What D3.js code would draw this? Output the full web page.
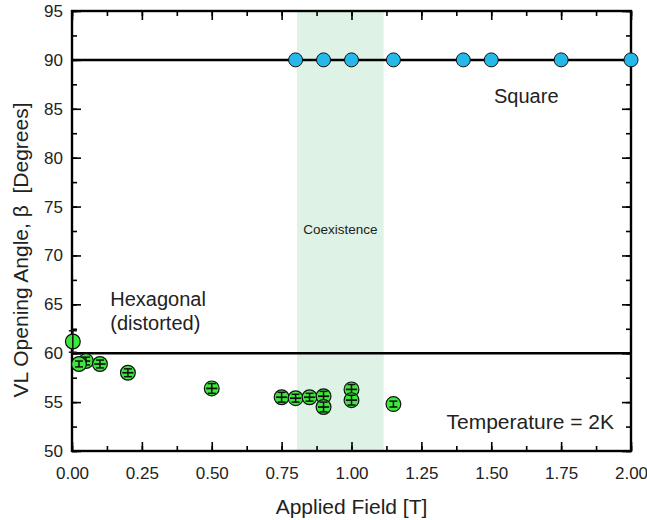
<!DOCTYPE html>
<html>
<head>
<meta charset="utf-8">
<script src="https://cdn.jsdelivr.net/npm/d3@7"></script>
<style>
  html, body { margin: 0; padding: 0; background: #fff; }
  svg { display: block; font-family: "Liberation Sans", Arial, Helvetica, sans-serif; }
</style>
</head>
<body>
<div id="chart"></div>
<script>
/* VL opening angle vs applied field (Temperature = 2K) */

// ── Data ────────────────────────────────────────────────────────────────
const hexField      = [0.003, 0.05, 0.025, 0.1, 0.2, 0.5, 0.75, 0.8, 0.85, 0.9, 0.9, 1.0, 1.0, 1.15];
const hexAngle      = [61.2, 59.2, 58.9, 58.9, 58.0, 56.4, 55.5, 55.4, 55.5, 55.6, 54.5, 56.3, 55.2, 54.8];
const hexAngleErr   = [1.1, 0.4, 0.3, 0.4, 0.4, 0.5, 0.5, 0.4, 0.4, 0.5, 0.5, 0.5, 0.5, 0.3];
const hexFieldErr   = [0, 0.015, 0, 0.02, 0.02, 0.02, 0.02, 0.02, 0.02, 0.02, 0.02, 0.02, 0.02, 0];

const squareField   = [0.8, 0.9, 1.0, 1.15, 1.4, 1.5, 1.75, 2.0];
const squareAngle   = [90, 90, 90, 90, 90, 90, 90, 90];

const refAngles     = [90, 60];
const coexistence   = [0.805, 1.115];

const xTicks = [0, 0.25, 0.5, 0.75, 1.0, 1.25, 1.5, 1.75, 2.0];
const yTicks = [50, 55, 60, 65, 70, 75, 80, 85, 90, 95];

// ── Layout ──────────────────────────────────────────────────────────────
const TW = 647, TH = 520;
const M = { top: 11, right: 16, bottom: 69, left: 72 };
const W = TW - M.left - M.right;
const H = TH - M.top - M.bottom;

const x = d3.scaleLinear().domain([0, 2]).range([0, W]);
const y = d3.scaleLinear().domain([50, 95]).range([H, 0]);

const svg = d3.select('#chart').append('svg')
  .attr('width', TW).attr('height', TH);

const g = svg.append('g').attr('transform', `translate(${M.left},${M.top})`);

// coexistence band
g.append('rect')
  .attr('x', x(coexistence[0])).attr('y', 0)
  .attr('width', x(coexistence[1]) - x(coexistence[0]))
  .attr('height', H)
  .attr('fill', '#def3e5');

g.append('text')
  .attr('x', x((coexistence[0] + coexistence[1]) / 2))
  .attr('y', y(72.2))
  .attr('text-anchor', 'middle')
  .attr('font-size', 13.5)
  .attr('fill', '#222')
  .text('Coexistence');

// reference lines
g.selectAll('line.ref').data(refAngles).join('line')
  .attr('class', 'ref')
  .attr('x1', 0).attr('x2', W)
  .attr('y1', d => y(d)).attr('y2', d => y(d))
  .attr('stroke', '#000').attr('stroke-width', 2.5);

// ── Axes (ticks inward on all four sides) ───────────────────────────────
const xMinor = d3.range(0, 2.0001, 0.125);
const yMinor = d3.range(50, 95.0001, 2.5);

function tickStyle(sel) {
  sel.select('.domain').remove();
  sel.selectAll('.tick line').attr('stroke', '#000').attr('stroke-width', 1.6);
  sel.selectAll('.tick text').attr('font-size', 17).attr('fill', '#222')
    .attr('font-family', '"Liberation Sans", Arial, sans-serif');
}

// minor ticks
g.append('g').attr('transform', `translate(0,${H})`)
  .call(d3.axisBottom(x).tickValues(xMinor).tickSizeInner(-5).tickSizeOuter(0).tickFormat(''))
  .call(tickStyle);
g.append('g')
  .call(d3.axisTop(x).tickValues(xMinor).tickSizeInner(-5).tickSizeOuter(0).tickFormat(''))
  .call(tickStyle);
g.append('g')
  .call(d3.axisLeft(y).tickValues(yMinor).tickSizeInner(-5).tickSizeOuter(0).tickFormat(''))
  .call(tickStyle);
g.append('g').attr('transform', `translate(${W},0)`)
  .call(d3.axisRight(y).tickValues(yMinor).tickSizeInner(-5).tickSizeOuter(0).tickFormat(''))
  .call(tickStyle);

// major ticks with labels
g.append('g').attr('transform', `translate(0,${H})`)
  .call(d3.axisBottom(x).tickValues(xTicks).tickSizeInner(-9).tickSizeOuter(0)
    .tickPadding(16).tickFormat(d3.format('.2f')))
  .call(tickStyle);
g.append('g')
  .call(d3.axisTop(x).tickValues(xTicks).tickSizeInner(-9).tickSizeOuter(0).tickFormat(''))
  .call(tickStyle);
g.append('g')
  .call(d3.axisLeft(y).tickValues(yTicks).tickSizeInner(-9).tickSizeOuter(0)
    .tickPadding(9).tickFormat(d3.format('d')))
  .call(tickStyle);
g.append('g').attr('transform', `translate(${W},0)`)
  .call(d3.axisRight(y).tickValues(yTicks).tickSizeInner(-9).tickSizeOuter(0).tickFormat(''))
  .call(tickStyle);

// frame
g.append('rect')
  .attr('width', W).attr('height', H)
  .attr('fill', 'none').attr('stroke', '#000').attr('stroke-width', 2.4);

// ── Square lattice points ───────────────────────────────────────────────
g.selectAll('circle.sq').data(squareField).join('circle')
  .attr('class', 'sq')
  .attr('cx', d => x(d))
  .attr('cy', (d, i) => y(squareAngle[i]))
  .attr('r', 7)
  .attr('fill', '#27b8ea')
  .attr('stroke', '#111').attr('stroke-width', 1);

// ── Hexagonal lattice points with error bars ────────────────────────────
const hex = hexField.map((f, i) => ({
  f, a: hexAngle[i], ea: hexAngleErr[i], ef: hexFieldErr[i]
}));

const hg = g.selectAll('g.hex').data(hex).join('g').attr('class', 'hex');

hg.append('circle')
  .attr('cx', d => x(d.f)).attr('cy', d => y(d.a))
  .attr('r', 7.4)
  .attr('fill', '#3de83d')
  .attr('stroke', '#111').attr('stroke-width', 1.2);

// vertical error bar + caps
hg.append('line')
  .attr('x1', d => x(d.f)).attr('x2', d => x(d.f))
  .attr('y1', d => y(d.a - d.ea)).attr('y2', d => y(d.a + d.ea))
  .attr('stroke', '#111').attr('stroke-width', 1.5);
hg.selectAll('line.cap')
  .data(d => [d.a - d.ea, d.a + d.ea].map(v => ({ f: d.f, v })))
  .join('line')
  .attr('class', 'cap')
  .attr('x1', d => x(d.f) - 4).attr('x2', d => x(d.f) + 4)
  .attr('y1', d => y(d.v)).attr('y2', d => y(d.v))
  .attr('stroke', '#111').attr('stroke-width', 1.5);

// horizontal error bar
hg.filter(d => d.ef > 0).append('line')
  .attr('x1', d => x(d.f - d.ef)).attr('x2', d => x(d.f + d.ef))
  .attr('y1', d => y(d.a)).attr('y2', d => y(d.a))
  .attr('stroke', '#111').attr('stroke-width', 1.7);

// ── Annotations ─────────────────────────────────────────────────────────
const note = (txt, xv, yv, size, anchor) => g.append('text')
  .attr('x', x(xv)).attr('y', y(yv))
  .attr('font-size', size).attr('fill', '#222')
  .attr('text-anchor', anchor || 'start')
  .text(txt);

note('Square', 1.51, 85.6, 20);
note('Hexagonal', 0.137, 64.85, 20);
note('(distorted)', 0.137, 62.4, 20);
note('Temperature = 2K', 1.34, 52.2, 21);

// ── Axis titles ─────────────────────────────────────────────────────────
svg.append('text')
  .attr('x', M.left + W / 2).attr('y', 514)
  .attr('text-anchor', 'middle')
  .attr('font-size', 21).attr('fill', '#222')
  .text('Applied Field [T]');

svg.append('text')
  .attr('transform', 'translate(28,250) rotate(-90)')
  .attr('text-anchor', 'middle')
  .attr('font-size', 21).attr('fill', '#222')
  .attr('xml:space', 'preserve')
  .style('white-space', 'pre')
  .text('VL Opening Angle, \u03B2  [Degrees]');
</script>
</body>
</html>
